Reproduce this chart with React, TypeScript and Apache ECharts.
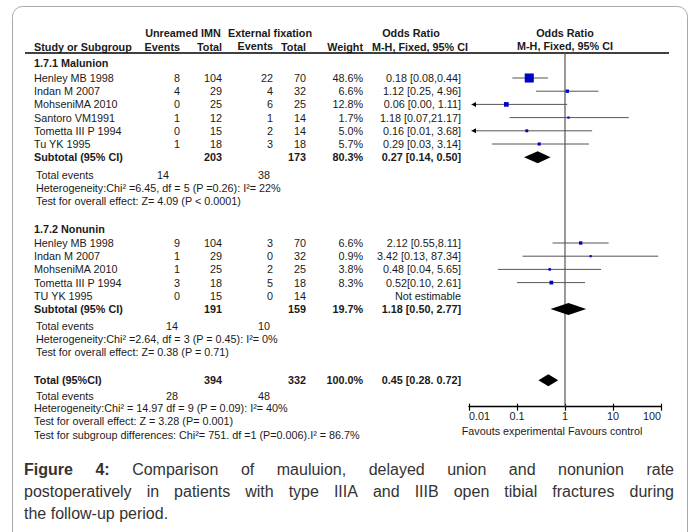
import React, { useEffect, useRef } from "react";
import * as echarts from "echarts";

const FONT = "'Liberation Sans', Arial, Helvetica, sans-serif";

// ---------- Data: 1.7.1 Malunion ----------
const malStudies = ["Henley MB 1998", "Indan M 2007", "MohseniMA 2010", "Santoro VM1991", "Tometta III P 1994", "Tu YK 1995"];
const malExpEvents = [8, 4, 0, 1, 0, 1];
const malExpTotal = [104, 29, 25, 12, 15, 18];
const malCtlEvents = [22, 4, 6, 1, 2, 3];
const malCtlTotal = [70, 32, 25, 14, 14, 18];
const malWeight = [48.6, 6.6, 12.8, 1.7, 5.0, 5.7];
const malOR = [0.18, 1.12, 0.06, 1.18, 0.16, 0.29];
const malLow = [0.08, 0.25, 0.0, 0.07, 0.01, 0.03];
const malHigh = [0.44, 4.96, 1.11, 21.17, 3.68, 3.14];
const malCILabels = ["0.18 [0.08,0.44]", "1.12 [0.25, 4.96]", "0.06 [0.00, 1.11]", "1.18 [0.07,21.17]", "0.16 [0.01, 3.68]", "0.29 [0.03, 3.14]"];

// ---------- Data: 1.7.2 Nonunin ----------
const nonStudies = ["Henley MB 1998", "Indan M 2007", "MohseniMA 2010", "Tometta III P 1994", "TU YK 1995"];
const nonExpEvents = [9, 1, 1, 3, 0];
const nonExpTotal = [104, 29, 25, 18, 15];
const nonCtlEvents = [3, 0, 2, 5, 0];
const nonCtlTotal = [70, 32, 25, 18, 14];
const nonWeight: (number | null)[] = [6.6, 0.9, 3.8, 8.3, null];
const nonOR: (number | null)[] = [2.12, 3.42, 0.48, 0.52, null];
const nonLow: (number | null)[] = [0.55, 0.13, 0.04, 0.1, null];
const nonHigh: (number | null)[] = [8.11, 87.34, 5.65, 2.61, null];
const nonCILabels = ["2.12 [0.55,8.11]", "3.42 [0.13, 87.34]", "0.48 [0.04, 5.65]", "0.52[0.10, 2.61]", "Not estimable"];

// ---------- Data: subtotals & total (Malunion, Nonunin, Total) ----------
const sumLabels = ["Subtotal (95% CI)", "Subtotal (95% CI)", "Total (95%CI)"];
const sumExpTotal = [203, 191, 394];
const sumCtlTotal = [173, 159, 332];
const sumWeight = ["80.3%", "19.7%", "100.0%"];
const sumOR = [0.27, 1.18, 0.45];
const sumLow = [0.14, 0.5, 0.28];
const sumHigh = [0.5, 2.77, 0.72];
const sumCILabels = ["0.27 [0.14, 0.50]", "1.18 [0.50, 2.77]", "0.45 [0.28. 0.72]"];
const sumExpEvents = [14, 14, 28];
const sumCtlEvents = [38, 10, 48];

const heterogeneity = [
  "Heterogeneity:Chi\u00b2 =6.45, df = 5 (P =0.26): I\u00b2= 22%",
  "Heterogeneity:Chi\u00b2 =2.64, df = 3 (P = 0.45): I\u00b2= 0%",
  "Heterogeneity:Chi\u00b2 = 14.97 df = 9 (P = 0.09): I\u00b2= 40%",
];
const overallEffect = [
  "Test for overall effect: Z= 4.09 (P < 0.0001)",
  "Test for overall effect: Z= 0.38 (P = 0.71)",
  "Test for overall effect: Z = 3.28 (P= 0.001)",
];
const subgroupTest = "Test for subgroup differences: Chi\u00b2= 751. df =1 (P=0.006).I\u00b2 = 86.7%";

const xTicks = [0.01, 0.1, 1, 10, 100];

const captionLine1 = ["Figure", "4:", "Comparison", "of", "mauluion,", "delayed", "union", "and", "nonunion", "rate"];
const captionLine2 = ["postoperatively", "in", "patients", "with", "type", "IIIA", "and", "IIIB", "open", "tibial", "fractures", "during"];
const captionLine3 = "the follow-up period.";

// ---------- Layout ----------
const X_MIN = xTicks[0];
const X_MAX = xTicks[xTicks.length - 1];
const ROW0 = 51.6;
const ROW_H = 13.2;
const Y_MAX = 26.9;
const rowY = (r: number) => ROW0 + ROW_H * r;

const MAL_HEADER_ROW = 0.86;
const MAL_ROWS = [2, 3, 4, 5, 6, 7];
const NON_HEADER_ROW = 13.45;
const NON_ROWS = [14.5, 15.5, 16.5, 17.5, 18.5];
const SUM_ROWS = [8, 19.5, 24.9];
const STAT_ROWS = [
  [9.35, 10.3, 11.3],
  [20.8, 21.75, 22.75],
  [26.1, 27.0, 28.0],
];
const SUBGROUP_ROW = 29.05;

const COL = { name: 34, expEv: 180, expTot: 222, ctlEv: 273, ctlTot: 306, weight: 363, ci: 461 };
const EVENT_CENTERS = [
  [163, 264],
  [172, 264],
  [172, 264],
];

const TEXT_COLOR = "#1a1a1a";
const TABLE_FS = 10.8;
const CAPTION_FS = 16;

function T(text: string, x: number, y: number, o: { bold?: boolean; align?: string; size?: number; color?: string } = {}) {
  return {
    type: "text",
    x,
    y,
    silent: true,
    style: {
      text,
      fontFamily: FONT,
      fontSize: o.size ?? TABLE_FS,
      fontWeight: o.bold ? "bold" : "normal",
      fill: o.color ?? TEXT_COLOR,
      align: o.align ?? "left",
      verticalAlign: "middle",
    },
  };
}

function measure(text: string, font: string) {
  const c = document.createElement("canvas").getContext("2d")!;
  c.font = font;
  return c.measureText(text).width;
}

function justified(words: string[], boldCount: number, x0: number, x1: number, y: number, size: number) {
  const fontN = `${size}px 'Liberation Sans'`;
  const fontB = `bold ${size}px 'Liberation Sans'`;
  const widths = words.map((w, i) => measure(w, i < boldCount ? fontB : fontN));
  const total = widths.reduce((a, b) => a + b, 0);
  const gap = (x1 - x0 - total) / (words.length - 1);
  const els: any[] = [];
  let x = x0;
  words.forEach((w, i) => {
    els.push(T(w, x, y, { bold: i < boldCount, size, color: "#333" }));
    x += widths[i] + gap;
  });
  return els;
}

export default function App() {
  const ref = useRef<HTMLDivElement>(null);

  useEffect(() => {
    if (!ref.current) return;
    const chart = echarts.init(ref.current, undefined, { renderer: "svg" });

    const g: any[] = [];
    // frame
    g.push({
      type: "rect",
      shape: { x: 12.5, y: 6.5, width: 675, height: 560, r: 10 },
      style: { fill: "none", stroke: "#aaa", lineWidth: 1 },
      silent: true,
    });
    // header
    g.push(T("Unreamed IMN", 183, 33, { bold: true, align: "center" }));
    g.push(T("External fixation", 270, 33, { bold: true, align: "center" }));
    g.push(T("Odds Ratio", 411, 33, { bold: true, align: "center" }));
    g.push(T("Odds Ratio", 565, 33, { bold: true, align: "center" }));
    g.push(T("Study or Subgroup", COL.name, 47, { bold: true }));
    g.push(T("Events", COL.expEv, 47, { bold: true, align: "right" }));
    g.push(T("Total", COL.expTot, 47, { bold: true, align: "right" }));
    g.push(T("Events", COL.ctlEv, 46, { bold: true, align: "right" }));
    g.push(T("Total", COL.ctlTot, 47, { bold: true, align: "right" }));
    g.push(T("Weight", COL.weight, 47, { bold: true, align: "right" }));
    g.push(T("M-H, Fixed, 95% CI", 420, 47, { bold: true, align: "center" }));
    g.push(T("M-H, Fixed, 95% CI", 565, 46, { bold: true, align: "center" }));
    g.push({
      type: "line",
      shape: { x1: 25, y1: 53, x2: 669, y2: 53 },
      style: { stroke: "#000", lineWidth: 1.4 },
      silent: true,
    });

    g.push(T("1.7.1 Malunion", COL.name, rowY(MAL_HEADER_ROW), { bold: true }));
    g.push(T("1.7.2 Nonunin", COL.name, rowY(NON_HEADER_ROW), { bold: true }));

    const studyRowsText = (names: string[], ee: number[], et: number[], ce: number[], ct: number[], w: (number | null)[], ci: string[], rows: number[]) => {
      names.forEach((n, i) => {
        const y = rowY(rows[i]);
        g.push(T(n, COL.name, y));
        g.push(T(String(ee[i]), COL.expEv, y, { align: "right" }));
        g.push(T(String(et[i]), COL.expTot, y, { align: "right" }));
        g.push(T(String(ce[i]), COL.ctlEv, y, { align: "right" }));
        g.push(T(String(ct[i]), COL.ctlTot, y, { align: "right" }));
        if (w[i] != null) g.push(T((w[i] as number).toFixed(1) + "%", COL.weight, y, { align: "right" }));
        g.push(T(ci[i], COL.ci, y, { align: "right" }));
      });
    };
    studyRowsText(malStudies, malExpEvents, malExpTotal, malCtlEvents, malCtlTotal, malWeight, malCILabels, MAL_ROWS);
    studyRowsText(nonStudies, nonExpEvents, nonExpTotal, nonCtlEvents, nonCtlTotal, nonWeight, nonCILabels, NON_ROWS);

    sumLabels.forEach((lab, i) => {
      const y = rowY(SUM_ROWS[i]);
      g.push(T(lab, COL.name, y, { bold: true }));
      g.push(T(String(sumExpTotal[i]), COL.expTot, y, { bold: true, align: "right" }));
      g.push(T(String(sumCtlTotal[i]), COL.ctlTot, y, { bold: true, align: "right" }));
      g.push(T(sumWeight[i], COL.weight, y, { bold: true, align: "right" }));
      g.push(T(sumCILabels[i], COL.ci, y, { bold: true, align: "right" }));
      const [r1, r2, r3] = STAT_ROWS[i];
      g.push(T("Total events", 36, rowY(r1)));
      g.push(T(String(sumExpEvents[i]), EVENT_CENTERS[i][0], rowY(r1), { align: "center" }));
      g.push(T(String(sumCtlEvents[i]), EVENT_CENTERS[i][1], rowY(r1), { align: "center" }));
      g.push(T(heterogeneity[i], i === 2 ? 34 : 36, rowY(r2)));
      g.push(T(overallEffect[i], i === 2 ? 34 : 36, rowY(r3)));
    });
    g.push(T(subgroupTest, 34, rowY(SUBGROUP_ROW)));

    g.push(T("Favouts experimental Favours control", 552, 431, { align: "center" }));

    // caption
    g.push(...justified(captionLine1, 2, 24, 674, 469, CAPTION_FS));
    g.push(...justified(captionLine2, 0, 24, 674, 491, CAPTION_FS));
    g.push(T(captionLine3, 24, 513, { size: CAPTION_FS, color: "#333" }));

    const studyData: number[][] = [];
    malOR.forEach((v, i) => studyData.push([v, malLow[i], malHigh[i], malWeight[i], MAL_ROWS[i]]));
    nonOR.forEach((v, i) => {
      if (v != null) studyData.push([v, nonLow[i] as number, nonHigh[i] as number, nonWeight[i] as number, NON_ROWS[i]]);
    });
    const diamondData = sumOR.map((v, i) => [v, sumLow[i], sumHigh[i], SUM_ROWS[i]]);

    const baseX = {
      type: "log",
      logBase: 10,
      min: X_MIN,
      max: X_MAX,
      position: "bottom",
      splitLine: { show: false },
      minorTick: { show: false },
    };

    chart.setOption({
      animation: false,
      backgroundColor: "#fff",
      grid: { left: 469, right: 691 - 661, top: ROW0, height: ROW_H * Y_MAX, containLabel: false },
      xAxis: [
        {
          ...baseX,
          axisLine: { show: true, onZero: false, lineStyle: { color: "#000", width: 1.3 } },
          axisTick: { show: true, length: 4, lineStyle: { color: "#000", width: 1.2 } },
          axisLabel: {
            fontSize: TABLE_FS,
            fontFamily: FONT,
            color: TEXT_COLOR,
            margin: 4,
            alignMinLabel: "left",
            alignMaxLabel: "right",
            formatter: (v: number) => String(+v.toPrecision(6)),
          },
        },
        {
          ...baseX,
          axisLine: { show: false, onZero: false },
          axisTick: { show: true, inside: true, length: 3, lineStyle: { color: "#000", width: 1.2 } },
          axisLabel: { show: false },
        },
      ],
      yAxis: { type: "value", min: 0, max: Y_MAX, inverse: true, show: false },
      graphic: { elements: g },
      series: [
        {
          type: "line",
          data: [
            [1, 0.1],
            [1, Y_MAX],
          ],
          symbol: "none",
          lineStyle: { color: "#555", width: 1.2 },
          silent: true,
          z: 1,
        },
        {
          type: "custom",
          encode: { x: 0, y: 4 },
          data: studyData,
          z: 3,
          renderItem: (params: any, api: any) => {
            const est = api.value(0) as number;
            const lo = api.value(1) as number;
            const hi = api.value(2) as number;
            const w = api.value(3) as number;
            const row = api.value(4) as number;
            const clipped = lo <= X_MIN;
            const a = api.coord([Math.max(lo, X_MIN), row]);
            const b = api.coord([Math.min(hi, X_MAX), row]);
            const c = api.coord([est, row]);
            const s = Math.max(2.2, 1.3 * Math.sqrt(w));
            const startX = clipped ? a[0] + 2.5 : a[0];
            const children: any[] = [
              { type: "line", shape: { x1: startX, y1: a[1], x2: b[0], y2: b[1] }, style: { stroke: "#555", lineWidth: 1 } },
              { type: "rect", shape: { x: c[0] - s / 2, y: c[1] - s / 2, width: s, height: s }, style: { fill: "#0000c8" } },
            ];
            if (clipped) {
              children.push({
                type: "polygon",
                shape: { points: [[a[0] + 2.5, a[1]], [a[0] + 7, a[1] - 2.5], [a[0] + 7, a[1] + 2.5]] },
                style: { fill: "#000" },
              });
            }
            return { type: "group", children };
          },
        },
        {
          type: "custom",
          encode: { x: 0, y: 3 },
          data: diamondData,
          z: 3,
          renderItem: (params: any, api: any) => {
            const row = api.value(3) as number;
            const c = api.coord([api.value(0), row]);
            const l = api.coord([api.value(1), row]);
            const r = api.coord([api.value(2), row]);
            const h = 6;
            return {
              type: "polygon",
              shape: { points: [[l[0], c[1]], [c[0], c[1] - h], [r[0], c[1]], [c[0], c[1] + h]] },
              style: { fill: "#000" },
            };
          },
        },
      ],
    });

    return () => chart.dispose();
  }, []);

  return (
    <div style={{ position: "absolute", left: 0, top: 0, width: 691, height: 532, background: "#fff" }}>
      <div ref={ref} style={{ width: 691, height: 532 }} />
    </div>
  );
}
